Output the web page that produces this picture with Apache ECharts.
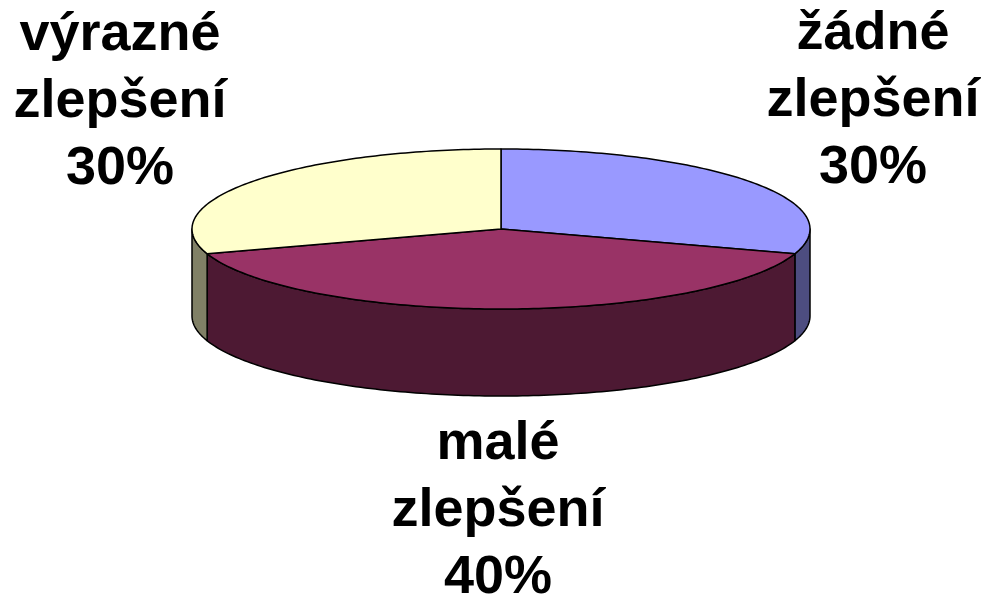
<!DOCTYPE html>
<html><head><meta charset="utf-8">
<script src="https://cdn.jsdelivr.net/npm/echarts@6/dist/echarts.min.js"></script>
<style>html,body{margin:0;padding:0;background:#fff}#c{width:987px;height:599px}</style>
</head><body><div id="c"></div>
<script>
// ---- data ----
const categories = ['žádné zlepšení', 'malé zlepšení', 'výrazné zlepšení'];
const values = [30, 40, 30];
const labelLines = [['žádné', 'zlepšení'], ['malé', 'zlepšení'], ['výrazné', 'zlepšení']];

// ---- style / layout ----
const topColors = ['#9999FF', '#993366', '#FFFFCC'];
const sideColors = ['#4D4D80', '#4D1933', '#808066'];
const labelPos = [[873, 101], [498, 511], [120, 102]];
const PIE = { cx: 501, cy: 229, rx: 309, ry: 80, depth: 87 };

const total = values.reduce((a, b) => a + b, 0);
const starts = [];
values.reduce((acc, v) => { starts.push(acc); return acc + v / total * 360; }, 0);

function pt(deg, dy) {
  const r = deg * Math.PI / 180;
  return [PIE.cx + PIE.rx * Math.sin(r), PIE.cy - PIE.ry * Math.cos(r) + (dy || 0)];
}
function arc(a, b, dy) {
  const pts = [];
  const n = Math.max(2, Math.ceil(Math.abs(b - a)));
  for (let k = 0; k <= n; k++) pts.push(pt(a + (b - a) * k / n, dy));
  return pts;
}

function renderItem(params, api) {
  const i = params.dataIndex;
  const v = api.value(0);
  const a = starts[i], b = a + v / total * 360;
  const children = [];
  const sa = Math.max(a, 90), sb = Math.min(b, 270);
  if (sb > sa) {
    const top = arc(sa, sb, 0);
    const bot = arc(sb, sa, PIE.depth);
    children.push({
      type: 'polygon', z2: 1,
      shape: { points: top.concat(bot) },
      style: { fill: sideColors[i], stroke: '#000', lineWidth: 1.5, lineJoin: 'round' }
    });
  }
  children.push({
    type: 'polygon', z2: 2,
    shape: { points: [[PIE.cx, PIE.cy]].concat(arc(a, b, 0)) },
    style: { fill: topColors[i], stroke: '#000', lineWidth: 1.5, lineJoin: 'round' }
  });
  const pct = Math.round(v / total * 100) + '%';
  children.push({
    type: 'text', z2: 3,
    x: labelPos[i][0], y: labelPos[i][1],
    style: {
      text: labelLines[i].concat([pct]).join('\n'),
      fontFamily: '"Liberation Sans", Arial, sans-serif',
      fontWeight: 'bold', fontSize: 54, lineHeight: 67,
      fill: '#000', align: 'center', verticalAlign: 'middle'
    }
  });
  return { type: 'group', children };
}

const chart = echarts.init(document.getElementById('c'), null, { renderer: 'canvas' });
chart.setOption({
  backgroundColor: '#fff',
  animation: false,
  series: [{
    type: 'custom',
    coordinateSystem: 'none',
    renderItem,
    data: values.map((v, i) => ({ name: categories[i], value: [v] }))
  }]
});
</script></body></html>
